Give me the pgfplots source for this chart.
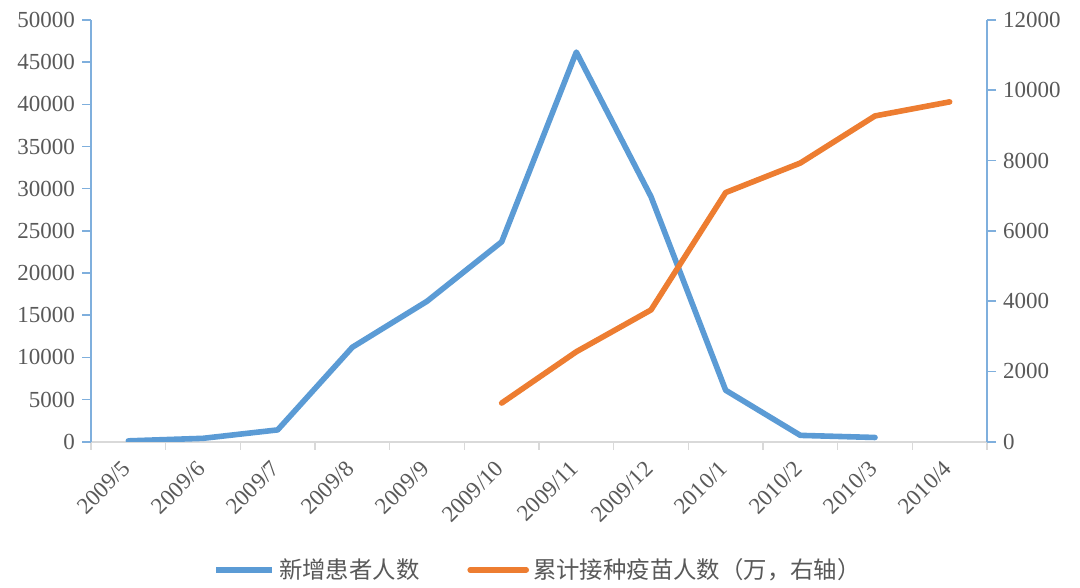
\documentclass[border=0pt]{standalone}
\usepackage{pgfplots}
\pgfplotsset{compat=1.18}
\usepackage{fontspec}
\setmainfont{Liberation Serif}
\newfontfamily\cjk{Noto Sans CJK SC}
\usetikzlibrary{calc}
\definecolor{cblue}{HTML}{5B9BD5}
\definecolor{corange}{HTML}{ED7D31}
\definecolor{ctext}{HTML}{595959}
\definecolor{cgrid}{HTML}{D9D9D9}
\definecolor{caxis}{HTML}{7FAFDD}
\pgfplotsset{common/.style={
  scale only axis, width=448pt, height=210.85pt,
  xmin=-0.5, xmax=11.5,
  tick label style={font=\fontsize{11.5}{12}\selectfont, text=ctext},
  /pgf/number format/assume math mode=true,
  /pgf/number format/1000 sep={},
  scaled y ticks=false,
  tick align=outside,
  major tick length=4.5pt,
  ytick style={draw=caxis, line width=0.8pt},
  y axis line style={draw=caxis, line width=0.8pt},
}}
\begin{document}
\begin{tikzpicture}
\begin{axis}[common, name=main,
  ymin=0, ymax=50000, ytick={0,5000,...,50000},
  axis x line*=bottom, axis y line*=left,
  x axis line style={draw=cgrid, line width=0.8pt},
  xtick={0,...,11},
  xticklabels={2009/5,2009/6,2009/7,2009/8,2009/9,2009/10,2009/11,2009/12,2010/1,2010/2,2010/3,2010/4},
  major x tick style={draw=none},
  minor xtick={-0.5,0.5,...,11.5},
  minor x tick style={draw=cgrid, line width=0.8pt},
  minor tick length=4pt,
  xticklabel style={rotate=45, anchor=east, xshift=2pt},
  xticklabel shift={6pt},
]
\addplot[cblue, line width=2.8pt, line join=round, line cap=round] coordinates {
(0,100) (1,400) (2,1400) (3,11200) (4,16650) (5,23700) (6,46200) (7,29050) (8,6100) (9,750) (10,500)
};
\end{axis}
\begin{axis}[common, at={(main.south west)}, anchor=south west,
  ymin=0, ymax=12000, ytick={0,2000,...,12000},
  axis x line=none, axis y line*=right,
  legend style={draw=none, at={(0.5,-0.304)}, anchor=center, legend columns=2,
    font=\cjk\fontsize{11.7}{13}\selectfont, text=ctext,
    /tikz/every even column/.append style={column sep=22pt}},
  legend image code/.code={\draw[#1] (0pt,0pt) -- (28pt,0pt);},
]
\addlegendimage{cblue, line width=2.8pt}
\addlegendentry{新增患者人数}
\addplot[corange, line width=2.8pt, line join=round, line cap=round] coordinates {
(5,1100) (6,2560) (7,3750) (8,7090) (9,7930) (10,9270) (11,9670)
};
\addlegendentry{累计接种疫苗人数（万，右轴）}
\end{axis}
\pgfresetboundingbox
\path[use as bounding box] ($(main.south west)+(-45.5pt,-73.15pt)$) rectangle ($(main.north east)+(46.5pt,10pt)$);
\end{tikzpicture}
\end{document}
